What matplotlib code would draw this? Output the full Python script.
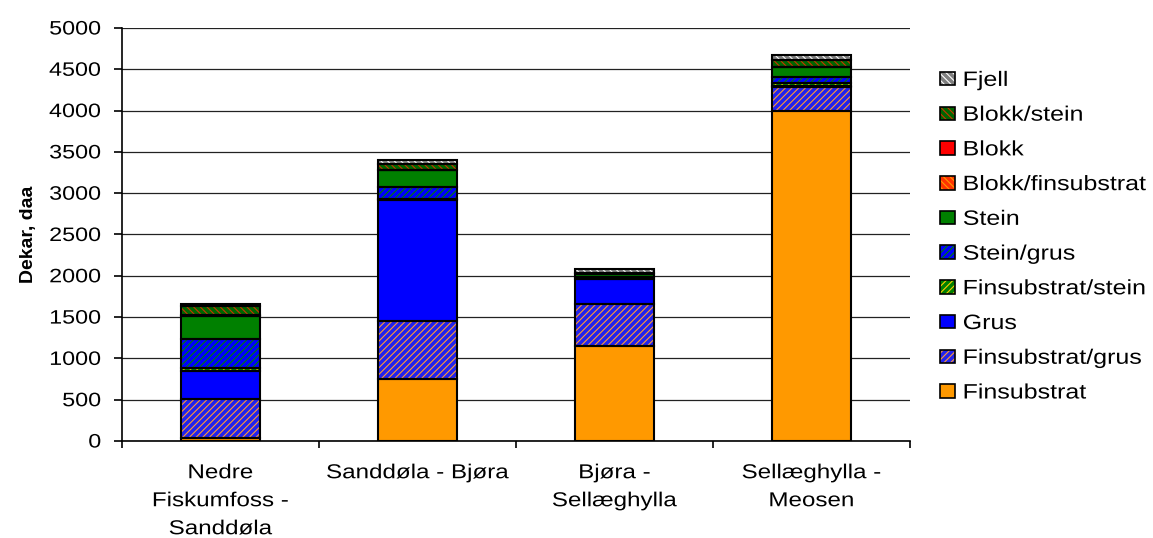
import numpy as np
import matplotlib.pyplot as plt
from matplotlib.patches import Patch
from matplotlib.patheffects import AbstractPathEffect
from matplotlib.transforms import Affine2D

plt.rcParams['font.family'] = ['Liberation Sans', 'DejaVu Sans']
plt.rcParams['hatch.linewidth'] = 0.8

strekninger = ['Nedre\nFiskumfoss -\nSanddøla', 'Sanddøla - Bjøra',
               'Bjøra -\nSellæghylla', 'Sellæghylla -\nMeosen']

# arealer i dekar, nederst til øverst i stabelen
finsubstrat = [35, 750, 1150, 4000]
finsubstrat_grus = [475, 706, 508, 287]
grus = [340, 1460, 298, 10]
finsubstrat_stein = [30, 10, 10, 40]
stein_grus = [355, 152, 25, 70]
stein = [280, 200, 30, 120]
blokk_finsubstrat = [0, 0, 0, 0]
blokk = [5, 0, 0, 0]
blokk_stein = [120, 80, 10, 80]
fjell = [20, 40, 50, 60]

# navn, verdier, fyllfarge, skraveringsfarge, skravering
lag = [
    ('Finsubstrat', finsubstrat, '#FF9900', None, None),
    ('Finsubstrat/grus', finsubstrat_grus, '#2222EE', '#FF9933', '/////'),
    ('Grus', grus, '#0000FF', None, None),
    ('Finsubstrat/stein', finsubstrat_stein, '#008000', '#FFCC00', '/////'),
    ('Stein/grus', stein_grus, '#0000FF', '#008000', '/////'),
    ('Stein', stein, '#008000', None, None),
    ('Blokk/finsubstrat', blokk_finsubstrat, '#FF3300', '#FF9900', '\\\\\\\\\\'),
    ('Blokk', blokk, '#FF0000', None, None),
    ('Blokk/stein', blokk_stein, '#006600', '#CC3300', '\\\\\\\\\\'),
    ('Fjell', fjell, '#808080', '#FFFFFF', '\\\\\\\\\\'),
]


class Bred(AbstractPathEffect):
    """Strekker teksten horisontalt rundt venstre, midt eller hoyre kant."""

    def __init__(self, sx=1.2, anker='center'):
        super().__init__()
        self.sx = sx
        self.anker = anker

    def draw_path(self, renderer, gc, tpath, affine, rgbFace=None):
        ext = tpath.get_extents()
        if self.anker == 'left':
            cx = ext.x0
        elif self.anker == 'right':
            cx = ext.x1
        else:
            cx = (ext.x0 + ext.x1) / 2
        t = Affine2D().translate(-cx, 0).scale(self.sx, 1).translate(cx, 0) + affine
        renderer.draw_path(gc, tpath, t, rgbFace)


fig = plt.figure(figsize=(11.53, 5.38), dpi=100)
ax = fig.add_axes([0.1058, 0.1803, 0.6834, 0.7677])

x = np.arange(len(strekninger))
bunn = np.zeros(len(strekninger))
handles = []
for navn, verdier, farge, hfarge, hatch in lag:
    verdier = np.array(verdier, dtype=float)
    if hatch:
        ax.bar(x, verdier, 0.4, bottom=bunn, color=farge, edgecolor=hfarge,
               hatch=hatch, linewidth=0, zorder=3)
        fyll = Patch(facecolor=farge, edgecolor=hfarge, hatch=hatch, linewidth=0)
    else:
        ax.bar(x, verdier, 0.4, bottom=bunn, color=farge, linewidth=0, zorder=3)
        fyll = Patch(facecolor=farge, linewidth=0)
    ax.bar(x, verdier, 0.4, bottom=bunn, facecolor='none', edgecolor='black',
           linewidth=1.5, zorder=4)
    handles.append((fyll, Patch(facecolor='none', edgecolor='black', linewidth=1.2)))
    bunn += verdier

ax.set_xlim(-0.5, 3.5)
ax.set_ylim(0, 5000)
ax.set_yticks(np.arange(0, 5001, 500))
ax.yaxis.grid(True, color='#222222', linewidth=0.9, zorder=0)
ax.set_axisbelow(True)

ax.set_xticks(x)
ax.set_xticklabels(strekninger, fontsize=14.5, linespacing=1.6, va='top')
ax.set_xticks(np.arange(-0.5, 4, 1), minor=True)
ax.tick_params(axis='x', which='major', length=0, pad=16)
ax.tick_params(axis='x', which='minor', length=5, width=1.2, direction='out')
ax.tick_params(axis='y', length=6, width=1.2, direction='out', labelsize=14, pad=9)

for t in ax.get_xticklabels():
    t.set_path_effects([Bred(1.2, 'center')])
for t in ax.get_yticklabels():
    t.set_path_effects([Bred(1.2, 'right')])

for side in ['top', 'right']:
    ax.spines[side].set_visible(False)
for side in ['left', 'bottom']:
    ax.spines[side].set_linewidth(1.2)

ax.set_ylabel('Dekar, daa', fontsize=14, fontweight='bold')
ax.yaxis.set_label_coords(-0.108, 0.5)

leg = fig.legend(handles[::-1], [l[0] for l in lag][::-1], loc='upper left',
                 bbox_to_anchor=(0.799, 0.903), frameon=False, fontsize=15,
                 handlelength=0.72, handleheight=0.62, handletextpad=0.38,
                 labelspacing=0.755)
for t in leg.get_texts():
    t.set_path_effects([Bred(1.2, 'left')])

fig.savefig('out.png', dpi=100)
